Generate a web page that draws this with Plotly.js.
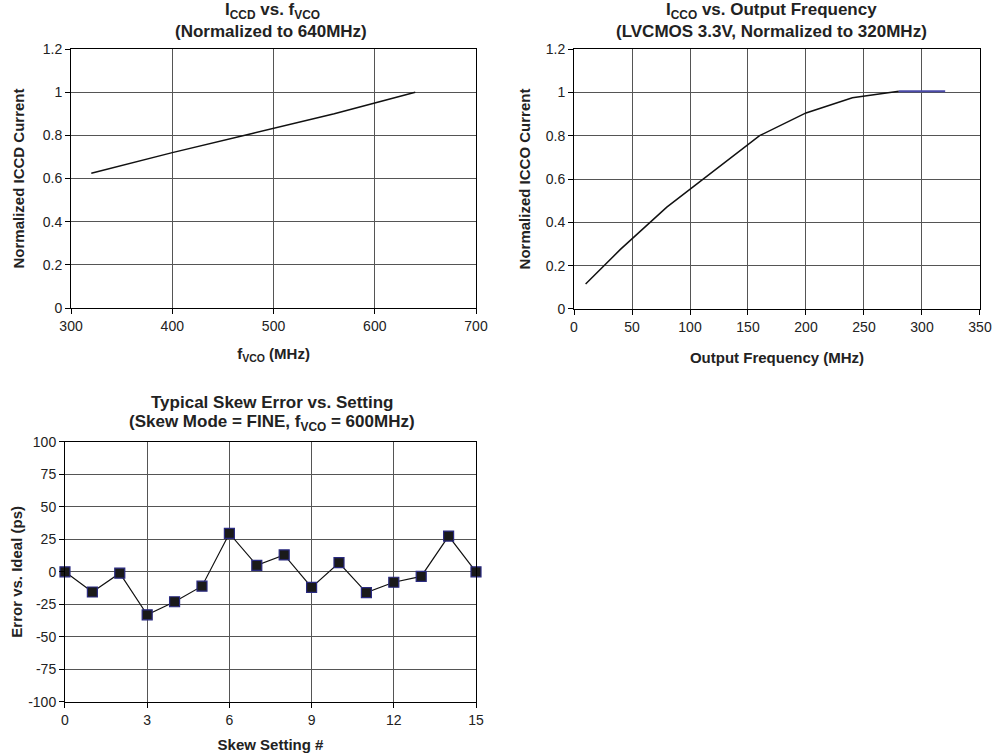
<!DOCTYPE html>
<html>
<head>
<meta charset="utf-8">
<script src="https://cdn.plot.ly/plotly-3.0.1.min.js"></script>
<style>html,body{margin:0;padding:0;background:#fff;}#chart{width:995px;height:754px;}</style>
</head>
<body>
<div id="chart"></div>
<script>
// Chart 1: ICCD vs fVCO
const fvco = [320, 400, 480, 560, 640];
const iccdNorm = [0.624, 0.72, 0.81, 0.90, 1.0];

// Chart 2: ICCO vs Output Frequency
const outFreq = [10, 40, 80, 120, 160, 200, 240, 280];
const iccoNorm = [0.115, 0.275, 0.47, 0.635, 0.80, 0.905, 0.975, 1.005];
const outFreqTail = [280, 320];
const iccoTail = [1.005, 1.005];

// Chart 3: Skew error vs setting
const skewSetting = [0, 1, 2, 3, 4, 5, 6, 7, 8, 9, 10, 11, 12, 13, 14, 15];
const skewError = [0, -15.5, -1, -33, -23, -11, 29.5, 5, 13, -12, 7, -16, -8, -3.5, 27.5, 0];
const skewYTickVals = [-100, -75, -50, -25, 0, 25, 50, 75, 100];
const skewYTickText = ['-100', '-75', '-50', '-25', '0', '25', '50', '75', '100'];

const FONT = 'Liberation Sans, Arial, sans-serif';
const tickFont = {family: FONT, size: 14, color: '#222'};
const titleFont = {family: FONT, size: 15, color: '#222'};
const headFont = {family: FONT, size: 17, color: '#222'};

function axis(extra) {
  return Object.assign({
    showline: true, linecolor: '#000', linewidth: 1, mirror: true,
    showgrid: true, gridcolor: '#555', gridwidth: 1,
    zeroline: false,
    ticks: 'outside', ticklen: 5, tickcolor: '#000', tickwidth: 1,
    tickfont: tickFont,
    fixedrange: true
  }, extra);
}

const traces = [
  {x: fvco, y: iccdNorm, xaxis: 'x', yaxis: 'y', type: 'scatter', mode: 'lines',
   line: {color: '#111', width: 1.5}, hoverinfo: 'skip'},
  {x: outFreq, y: iccoNorm, xaxis: 'x2', yaxis: 'y2', type: 'scatter', mode: 'lines',
   line: {color: '#111', width: 1.5}, hoverinfo: 'skip'},
  {x: outFreqTail, y: iccoTail, xaxis: 'x2', yaxis: 'y2', type: 'scatter', mode: 'lines',
   line: {color: '#4a4aa8', width: 1.8}, hoverinfo: 'skip'},
  {x: skewSetting, y: skewError, xaxis: 'x3', yaxis: 'y3', type: 'scatter', mode: 'lines+markers',
   line: {color: '#111', width: 1.2}, cliponaxis: false,
   marker: {symbol: 'square', size: 10, color: '#1a1a1a', line: {color: '#2a2a80', width: 1.2}},
   hoverinfo: 'skip'}
];

const layout = {
  width: 995, height: 754,
  margin: {l: 0, r: 0, t: 0, b: 0},
  paper_bgcolor: '#fff', plot_bgcolor: '#fff',
  showlegend: false,
  font: {family: FONT, color: '#222'},
  xaxis: axis({domain: [0.0714, 0.4784], range: [300, 700], dtick: 100, anchor: 'y',
    title: {text: '<b>f<sub>VCO</sub> (MHz)</b>', font: titleFont, standoff: 15}}),
  yaxis: axis({domain: [0.5915, 0.935], range: [0, 1.2], dtick: 0.2, anchor: 'x',
    title: {text: '<b>Normalized ICCD Current</b>', font: titleFont, standoff: 14}}),
  xaxis2: axis({domain: [0.5769, 0.9849], range: [0, 350], dtick: 50, anchor: 'y2',
    title: {text: '<b>Output Frequency (MHz)</b>', font: titleFont, standoff: 18}}),
  yaxis2: axis({domain: [0.5902, 0.935], range: [0, 1.2], dtick: 0.2, anchor: 'x2',
    title: {text: '<b>Normalized ICCO Current</b>', font: titleFont, standoff: 11}}),
  xaxis3: axis({domain: [0.0653, 0.4784], range: [0, 15], dtick: 3, anchor: 'y3',
    title: {text: '<b>Skew Setting #</b>', font: titleFont, standoff: 12}}),
  yaxis3: axis({domain: [0.069, 0.4142], range: [-100, 100], tickmode: 'array',
    tickvals: skewYTickVals, ticktext: skewYTickText, anchor: 'x3',
    title: {text: '<b>Error vs. Ideal (ps)</b>', font: titleFont, standoff: 1}}),
  annotations: [
    {text: '<b>I<sub>CCD</sub> vs. f<sub>VCO</sub></b>', x: 272, y: 11},
    {text: '<b>(Normalized to 640MHz)</b>', x: 271, y: 32},
    {text: '<b>I<sub>CCO</sub> vs. Output Frequency</b>', x: 771, y: 11},
    {text: '<b>(LVCMOS 3.3V, Normalized to 320MHz)</b>', x: 771, y: 32},
    {text: '<b>Typical Skew Error vs. Setting</b>', x: 272, y: 402},
    {text: '<b>(Skew Mode = FINE, f<sub>VCO</sub> = 600MHz)</b>', x: 272, y: 423}
  ]
};
// convert pixel positions of annotations to paper fractions
layout.annotations.forEach(a => {
  a.x = a.x / 995; a.y = 1 - a.y / 754;
  a.xref = 'paper'; a.yref = 'paper'; a.showarrow = false; a.font = headFont;
  a.xanchor = 'center'; a.yanchor = 'middle';
});

Plotly.newPlot('chart', traces, layout, {staticPlot: true, displayModeBar: false});
</script>
</body>
</html>
